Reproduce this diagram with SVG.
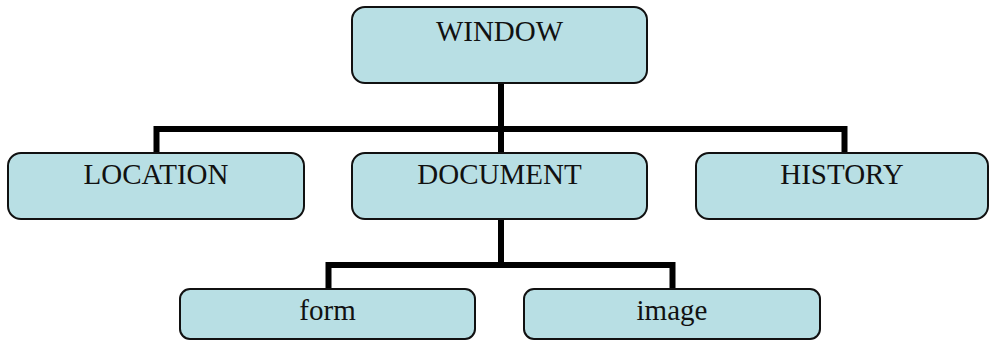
<svg xmlns="http://www.w3.org/2000/svg" width="989" height="340" viewBox="0 0 989 340">
<style>
.box{fill:#b8dfe4;stroke:#111;stroke-width:2}
.lbl{font-family:"Liberation Serif","Times New Roman",serif;font-size:29px;fill:#111;text-anchor:middle}
.conn{fill:none;stroke:#000;stroke-width:6;stroke-linejoin:miter}
</style>
<rect width="989" height="340" fill="#fff"/>
<g id="connectors">
<path class="conn" d="M501,83 V153"/>
<path class="conn" d="M156.5,153 V129 H844.5 V153"/>
<path class="conn" d="M501,219 V265"/>
<path class="conn" d="M328.5,289 V265 H672.5 V289"/>
</g>
<g id="window"><rect class="box" x="352" y="7" width="295" height="76" rx="13"/><text class="lbl" x="499.5" y="41">WINDOW</text></g>
<g id="location"><rect class="box" x="8" y="153" width="296" height="66" rx="13"/><text class="lbl" x="156" y="184">LOCATION</text></g>
<g id="document"><rect class="box" x="352" y="153" width="295" height="66" rx="13"/><text class="lbl" x="499.5" y="184">DOCUMENT</text></g>
<g id="history"><rect class="box" x="696" y="153" width="292" height="66" rx="13"/><text class="lbl" x="842" y="184">HISTORY</text></g>
<g id="form"><rect class="box" x="180" y="289" width="295" height="50" rx="10"/><text class="lbl" x="327.5" y="320">form</text></g>
<g id="image"><rect class="box" x="524" y="289" width="296" height="50" rx="10"/><text class="lbl" x="672" y="320">image</text></g>
</svg>
